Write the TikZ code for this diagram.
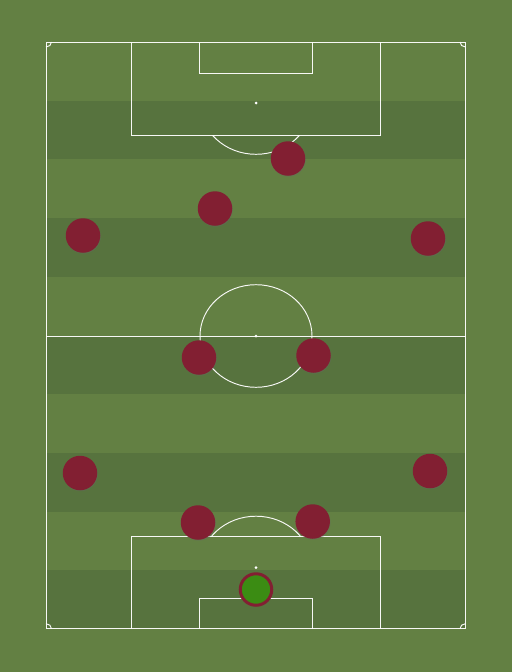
\documentclass[tikz,border=0pt]{standalone}
\usetikzlibrary{shadows}
\definecolor{grassA}{RGB}{99,128,67}
\definecolor{grassB}{RGB}{87,115,62}
\definecolor{shirt}{RGB}{130,31,50}
\definecolor{keeper}{RGB}{59,140,19}
\tikzset{
  pitchline/.style={draw=white, line width=0.95pt, opacity=0.95},
  player/.style={circle, fill=shirt, minimum size=34.5pt, inner sep=0pt,
    drop shadow={opacity=0.35, shadow xshift=0.6pt, shadow yshift=-1pt, fill=black!60}},
  gk/.style={circle, fill=keeper, draw=shirt, line width=3pt, minimum size=31.5pt, inner sep=0pt,
    drop shadow={opacity=0.35, shadow xshift=0.6pt, shadow yshift=-1pt, fill=black!60}},
  spot/.style={circle, fill=white, minimum size=3pt, inner sep=0pt},
}
\begin{document}
\begin{tikzpicture}[x=1pt, y=-1pt]
\fill[grassA] (0,0) rectangle (512,672);
\useasboundingbox (0,0) rectangle (512,672);
% stripes
\foreach \k in {1,3,5,7,9} {
  \fill[grassB] (46,{42+58.7*\k}) rectangle (465.5,{42+58.7*(\k+1)});
}
% outer lines
\draw[pitchline] (46,42) rectangle (465.5,628.7);
\draw[pitchline] (46,336) -- (465.5,336);
% centre circle and spot
\draw[pitchline] (256,336) ellipse [x radius=56, y radius=51.3];
\node[spot] (cspot) at (256,336) {};
% top penalty area
\draw[pitchline] (131,42) -- (131,135) -- (380,135) -- (380,42);
\draw[pitchline] (199.5,42) -- (199.5,73) -- (312.5,73) -- (312.5,42);
\node[spot] (tspot) at (256,103) {};
\begin{scope}
  \clip (0,135) rectangle (512,300);
  \draw[pitchline] (256,103) ellipse [x radius=56, y radius=51.3];
\end{scope}
% bottom penalty area
\draw[pitchline] (131,628.7) -- (131,536) -- (380,536) -- (380,628.7);
\draw[pitchline] (199.5,628.7) -- (199.5,598) -- (312.5,598) -- (312.5,628.7);
\node[spot] (bspot) at (256,567.5) {};
\begin{scope}
  \clip (0,400) rectangle (512,536);
  \draw[pitchline] (256,567.5) ellipse [x radius=56, y radius=51.3];
\end{scope}
% corner arcs
\draw[pitchline] (51.5,42) arc[start angle=0, end angle=-90, x radius=5.5, y radius=-5];
\draw[pitchline] (460,42) arc[start angle=180, end angle=270, x radius=5.5, y radius=-5];
\draw[pitchline] (51.5,628.7) arc[start angle=0, end angle=90, x radius=5.5, y radius=-5];
\draw[pitchline] (460,628.7) arc[start angle=180, end angle=90, x radius=5.5, y radius=-5];
% players
\node[player] (p1) at (288,158.5) {};
\node[player] (p2) at (215,208.5) {};
\node[player] (p3) at (83,235.5) {};
\node[player] (p4) at (428,238.5) {};
\node[player] (p5) at (199,357.5) {};
\node[player] (p6) at (313.5,355.5) {};
\node[player] (p7) at (80,473) {};
\node[player] (p8) at (430,471) {};
\node[player] (p9) at (198,522.5) {};
\node[player] (p10) at (312.7,521.5) {};
\node[gk] (p11) at (256,589.5) {};
\end{tikzpicture}
\end{document}
